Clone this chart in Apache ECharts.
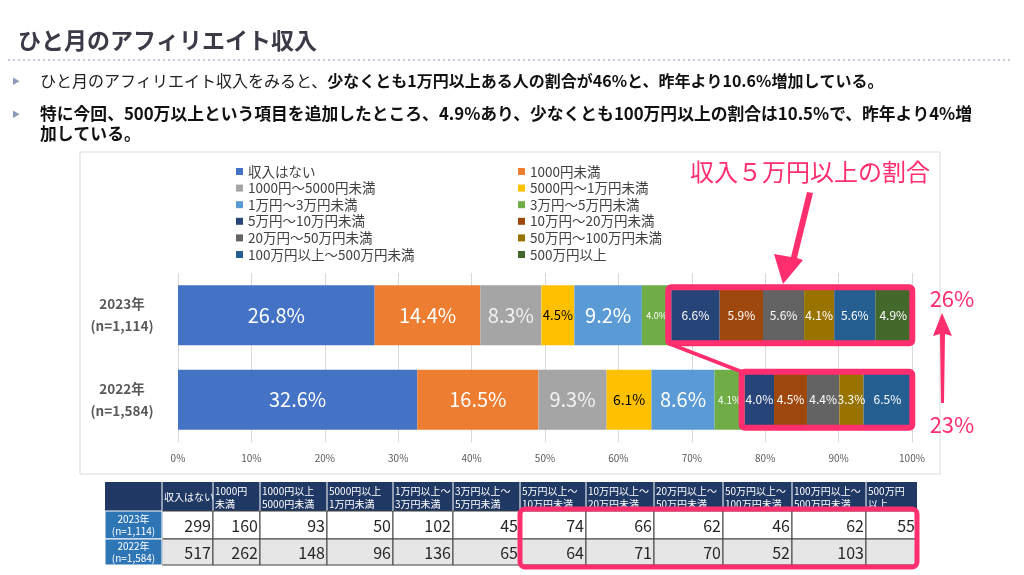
<!DOCTYPE html>
<html>
<head>
<meta charset="utf-8">
<script src="https://cdn.jsdelivr.net/npm/echarts@6/dist/echarts.min.js"></script>
<style>
  html, body { margin: 0; padding: 0; background: #fff; }
  #main { width: 1024px; height: 575px; }
</style>
</head>
<body>
<div id="main"></div>
<script>
const FONT = '"Noto Sans CJK JP", "Noto Sans", sans-serif';
const PINK = '#FF2E6E';

// データ
const categories = ['2023年\n(n=1,114)', '2022年\n(n=1,584)'];
const seriesNames = [
    '収入はない', '1000円未満', '1000円～5000円未満', '5000円～1万円未満',
    '1万円～3万円未満', '3万円～5万円未満', '5万円～10万円未満', '10万円～20万円未満',
    '20万円～50万円未満', '50万円～100万円未満', '100万円以上～500万円未満', '500万円以上',
];
const share2023 = [26.8, 14.4, 8.3, 4.5, 9.2, 4.0, 6.6, 5.9, 5.6, 4.1, 5.6, 4.9];
const share2022 = [32.6, 16.5, 9.3, 6.1, 8.6, 4.1, 4.0, 4.5, 4.4, 3.3, 6.5, null];
const tableHeaders = [
    '収入はない', '1000円\n未満', '1000円以上\n5000円未満', '5000円以上\n1万円未満',
    '1万円以上～\n3万円未満', '3万円以上～\n5万円未満', '5万円以上～\n10万円未満', '10万円以上～\n20万円未満',
    '20万円以上～\n50万円未満', '50万円以上～\n100万円未満', '100万円以上～\n500万円未満', '500万円\n以上',
];
const tableRows = ['2023年\n(n=1,114)', '2022年\n(n=1,584)'];
const count2023 = [299, 160, 93, 50, 102, 45, 74, 66, 62, 46, 62, 55];
const count2022 = [517, 262, 148, 96, 136, 65, 64, 71, 70, 52, 103, null];

// 見た目
const colors = ['#4472C4', '#ED7D31', '#A5A5A5', '#FFC000', '#5B9BD5', '#70AD47',
    '#264478', '#9E480E', '#636363', '#997300', '#255E91', '#43682B'];
const labelColors = ['#fff', '#fff', '#F2F2F2', '#000', '#fff', '#fff',
    '#fff', '#fff', '#fff', '#fff', '#fff', '#fff'];
const labelSize2023 = [20, 20, 20, 13, 20, 9, 12, 12, 12, 12, 12, 12];
const labelSize2022 = [20, 20, 20, 14, 20, 10, 12, 12, 12, 12, 12, 12];

const series = seriesNames.map((name, i) => ({
    name,
    type: 'bar',
    stack: 'total',
    barWidth: 60,
    itemStyle: { color: colors[i] },
    label: {
        show: true,
        position: 'inside',
        fontFamily: FONT,
        color: labelColors[i],
        formatter: p => (p.value == null ? '' : `${p.value.toFixed(1)}%`),
    },
    data: [
        { value: share2023[i], label: { fontSize: labelSize2023[i] } },
        { value: share2022[i], label: { fontSize: labelSize2022[i] } },
    ],
}));

const legendBase = {
    orient: 'vertical',
    top: 159,
    icon: 'rect',
    itemWidth: 7,
    itemHeight: 7,
    itemGap: 1.6,
    selectedMode: false,
    textStyle: { fontFamily: FONT, fontSize: 13.5, color: '#404040', lineHeight: 15 },
};

// 表
const colX = [105, 162, 213, 260, 327, 393, 453, 520, 586, 654, 723, 792, 866, 917];
const rowY = [482, 511, 539, 565];
const buildTable = () => {
    const els = [];
    els.push({ type: 'rect', shape: { x: colX[0], y: rowY[0], width: colX[13] - colX[0], height: rowY[1] - rowY[0] }, style: { fill: '#203864' } });
    for (let c = 1; c < 13; c++) {
        const x = colX[c];
        const w = colX[c + 1] - x;
        els.push({ type: 'line', shape: { x1: x, y1: rowY[0], x2: x, y2: rowY[1] }, style: { stroke: '#fff', lineWidth: 1 } });
        els.push({
            type: 'text', x: x + 2, y: (rowY[0] + rowY[1]) / 2 + 1,
            style: { text: tableHeaders[c - 1], fill: '#fff', font: `10px ${FONT}`, lineHeight: 13, verticalAlign: 'middle', align: 'left' },
        });
        [count2023, count2022].forEach((counts, r) => {
            els.push({
                type: 'rect', shape: { x, y: rowY[r + 1], width: w, height: rowY[r + 2] - rowY[r + 1] },
                style: { fill: r === 0 ? '#fff' : '#E7E6E6', stroke: '#404040', lineWidth: 1 },
            });
            if (counts[c - 1] != null) {
                els.push({
                    type: 'text', x: x + w - 2, y: (rowY[r + 1] + rowY[r + 2]) / 2 + 1,
                    style: { text: String(counts[c - 1]), fill: '#262626', font: `16px ${FONT}`, align: 'right', verticalAlign: 'middle' },
                });
            }
        });
    }
    tableRows.forEach((t, r) => {
        els.push({
            type: 'rect', shape: { x: colX[0], y: rowY[r + 1], width: colX[1] - colX[0], height: rowY[r + 2] - rowY[r + 1] },
            style: { fill: '#2E75B6', stroke: '#fff', lineWidth: 1 },
        });
        els.push({
            type: 'text', x: (colX[0] + colX[1]) / 2, y: (rowY[r + 1] + rowY[r + 2]) / 2,
            style: { text: t, fill: '#fff', font: `10px ${FONT}`, lineHeight: 12, align: 'center', verticalAlign: 'middle' },
        });
    });
    return els;
};

const staticGraphics = [
    { id: 'frame', type: 'rect', z: -10, shape: { x: 80, y: 152, width: 860, height: 322 }, style: { fill: 'none', stroke: '#D9D9D9', lineWidth: 1 } },
    { id: 'title', type: 'text', x: 18, y: 40, style: { text: 'ひと月のアフィリエイト収入', font: `bold 23px ${FONT}`, fill: '#3B3B48', verticalAlign: 'middle' } },
    { id: 'dots', type: 'line', shape: { x1: 8, y1: 60, x2: 1012, y2: 60 }, style: { stroke: '#C3CBD8', lineWidth: 2, lineDash: [2, 3] } },
    { id: 'b1', type: 'text', x: 12, y: 81, style: { text: '▶', font: `8px ${FONT}`, fill: '#8A9AB5', verticalAlign: 'middle' } },
    { id: 'b2', type: 'text', x: 12, y: 114, style: { text: '▶', font: `8px ${FONT}`, fill: '#8A9AB5', verticalAlign: 'middle' } },
    {
        id: 'line1', type: 'text', x: 40, y: 81,
        style: {
            text: '{n|ひと月のアフィリエイト収入をみると、}{b|少なくとも1万円以上ある人の割合が46%と、昨年より10.6%増加している。}',
            verticalAlign: 'middle',
            rich: {
                n: { font: `16px ${FONT}`, fill: '#222' },
                b: { font: `bold 16px ${FONT}`, fill: '#111' },
            },
        },
    },
    {
        id: 'line2', type: 'text', x: 40, y: 104,
        style: {
            text: '特に今回、500万以上という項目を追加したところ、4.9%あり、少なくとも100万円以上の割合は10.5%で、昨年より4%増\n加している。',
            font: `bold 16.8px ${FONT}`, fill: '#111', lineHeight: 20, verticalAlign: 'top',
        },
    },
    { id: 'note', type: 'text', x: 690, y: 172, style: { text: '収入５万円以上の割合', font: `24px ${FONT}`, fill: PINK, verticalAlign: 'middle' } },
    { id: 'arrow1', type: 'polygon', z: 110, shape: { points: [[807, 192], [813, 193], [797, 258], [803, 260], [783, 284], [774, 254], [791, 257]] }, style: { fill: PINK } },
    { id: 'arrow2', type: 'polygon', z: 110, shape: { points: [[942, 313], [952, 336], [945, 334], [944, 403], [941, 403], [940, 334], [933, 336]] }, style: { fill: PINK } },
    { id: 'p26', type: 'text', x: 952, y: 299, style: { text: '26%', font: `22px ${FONT}`, fill: PINK, align: 'center', verticalAlign: 'middle' } },
    { id: 'p23', type: 'text', x: 952, y: 425, style: { text: '23%', font: `22px ${FONT}`, fill: PINK, align: 'center', verticalAlign: 'middle' } },
    { id: 'tablebox', type: 'rect', z: 110, shape: { x: 520, y: 509, width: 397, height: 58, r: 5 }, style: { fill: 'none', stroke: PINK, lineWidth: 5 } },
].concat(buildTable().map((e, i) => Object.assign({ id: `t${i}`, z: 5 }, e)));

const chartDom = document.getElementById('main');
const myChart = echarts.init(chartDom);
const option = {
    animation: false,
    backgroundColor: '#fff',
    textStyle: { fontFamily: FONT },
    legend: [
        Object.assign({ left: 231, data: seriesNames.filter((n, i) => i % 2 === 0) }, legendBase),
        Object.assign({ left: 513, data: seriesNames.filter((n, i) => i % 2 === 1) }, legendBase),
    ],
    grid: { left: 178, right: 112, top: 273, bottom: 133 },
    xAxis: {
        type: 'value',
        min: 0,
        max: 100,
        interval: 10,
        axisLine: { show: false },
        axisTick: { show: false },
        axisLabel: { formatter: '{value}%', color: '#595959', fontSize: 10, margin: 11 },
        splitLine: { lineStyle: { color: '#D9D9D9', width: 1 } },
    },
    yAxis: {
        type: 'category',
        inverse: true,
        data: categories,
        axisLine: { show: false },
        axisTick: { show: false },
        axisLabel: { align: 'center', margin: 56, fontWeight: 'bold', fontSize: 13.5, color: '#595959', lineHeight: 22 },
    },
    series,
    graphic: { elements: staticGraphics },
};
myChart.setOption(option);

// ピンクの枠を棒の位置から計算
const sum = (arr, n) => arr.slice(0, n).reduce((a, b) => a + (b || 0), 0);
const boxFor = (arr, rowIdx) => {
    const x0 = myChart.convertToPixel({ xAxisIndex: 0 }, sum(arr, 6));
    const x1 = myChart.convertToPixel({ xAxisIndex: 0 }, sum(arr, arr.length));
    const yc = myChart.convertToPixel({ yAxisIndex: 0 }, rowIdx);
    return { x0: x0 - 3, x1: x1 + 1, y0: yc - 28, y1: yc + 28 };
};
const b23 = boxFor(share2023, 0);
const b22 = boxFor(share2022, 1);
const boxEl = (id, b) => ({
    id, type: 'rect', z: 110,
    shape: { x: b.x0, y: b.y0, width: b.x1 - b.x0, height: b.y1 - b.y0, r: 3 },
    style: { fill: 'none', stroke: PINK, lineWidth: 6 },
});
myChart.setOption({
    graphic: {
        elements: staticGraphics.concat([
            boxEl('box23', b23),
            boxEl('box22', b22),
            { id: 'link', type: 'line', z: 110, shape: { x1: b23.x0, y1: b23.y1, x2: b22.x0, y2: b22.y0 }, style: { stroke: PINK, lineWidth: 4 } },
        ]),
    },
});
window.addEventListener('resize', () => {
    myChart.resize();
});
</script>
</body>
</html>
